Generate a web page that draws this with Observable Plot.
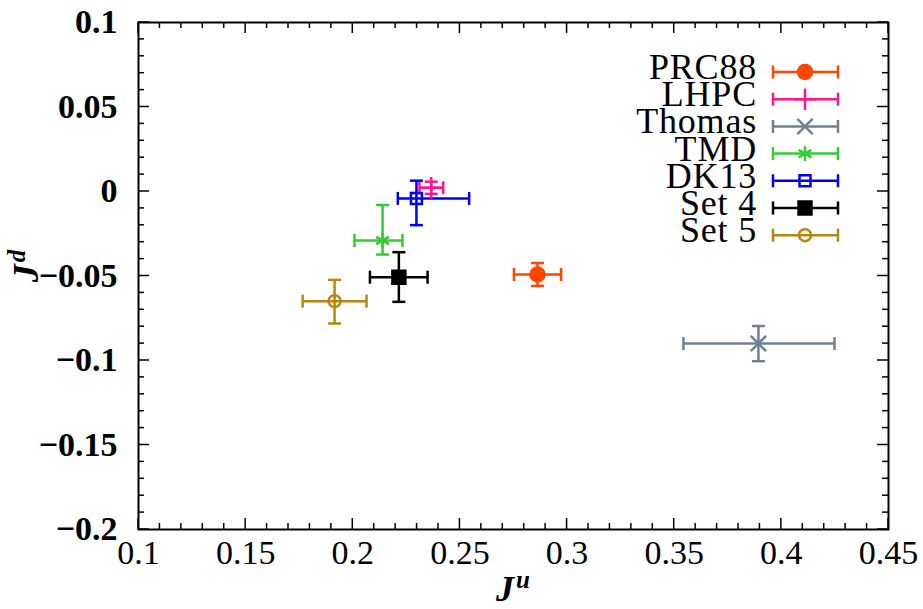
<!DOCTYPE html>
<html><head><meta charset="utf-8">
<script src="https://cdn.jsdelivr.net/npm/d3@7"></script>
<script src="https://cdn.jsdelivr.net/npm/@observablehq/plot@0.6"></script>
<style>body{margin:0;background:#fff;} #chart svg{display:block;}</style>
</head><body><div id="chart"></div>
<script>
// ---- data ----
const names   = ["PRC88", "LHPC", "Thomas", "TMD", "DK13", "Set 4", "Set 5"];
const colors  = ["#ff4500", "#ff1493", "#708090", "#32cd32", "#0000ff", "#000000", "#b8860b"];
const symbols = ["circle", "plus", "times", "asterisk", "square", "square", "circle"];
const filled  = [true, false, false, false, false, true, false];
const ju      = [0.2862, 0.2366, 0.3893, 0.2139, 0.2297, 0.2215, 0.1915];
const juMinus = [0.0110, 0.0055, 0.0350, 0.0131, 0.0087, 0.0135, 0.0149];
const juPlus  = [0.0110, 0.0056, 0.0355, 0.0093, 0.0246, 0.0134, 0.0149];
const jd      = [-0.0491, 0.0022, -0.0900, -0.0290, -0.0041, -0.0507, -0.0649];
const jdMinus = [0.0068, 0.0036, 0.0104, 0.0083, 0.0158, 0.0146, 0.0132];
const jdPlus  = [0.0068, 0.0036, 0.0104, 0.0210, 0.0105, 0.0148, 0.0126];
const xTicks  = [0.1, 0.15, 0.2, 0.25, 0.3, 0.35, 0.4, 0.45];
const yTicks  = [-0.2, -0.15, -0.1, -0.05, 0, 0.05, 0.1];
const xMinor  = [0.11,0.12,0.13,0.14,0.16,0.17,0.18,0.19,0.21,0.22,0.23,0.24,0.26,0.27,0.28,0.29,0.31,0.32,0.33,0.34,0.36,0.37,0.38,0.39,0.41,0.42,0.43,0.44];
const yMinor  = [-0.19,-0.18,-0.17,-0.16,-0.14,-0.13,-0.12,-0.11,-0.09,-0.08,-0.07,-0.06,-0.04,-0.03,-0.02,-0.01,0.01,0.02,0.03,0.04,0.06,0.07,0.08,0.09];

const data = names.map((n, i) => ({
  name: n, color: colors[i], symbol: symbols[i], filled: filled[i],
  x: ju[i], xlo: ju[i] - juMinus[i], xhi: ju[i] + juPlus[i],
  y: jd[i], ylo: jd[i] - jdMinus[i], yhi: jd[i] + jdPlus[i]
}));

const capV = {draw(ctx, size) { const r = Math.sqrt(size / Math.PI); ctx.moveTo(0, -r); ctx.lineTo(0, r); }};
const capH = {draw(ctx, size) { const r = Math.sqrt(size / Math.PI); ctx.moveTo(-r, 0); ctx.lineTo(r, 0); }};

const FONT = "'Liberation Serif', 'DejaVu Serif', serif";
const fmt = d => (d < 0 ? "\u2212" : "") + Math.abs(d);
const SW = 2.5, CAP = 6.5, MR = 7;
const markerR = d => d.symbol === "square" ? (d.filled ? 7.3 : 6.2) : (d.symbol === "circle" ? (d.filled ? 7 : 6) : MR);

const markerMarks = data.map(d => Plot.dot([d], {
  x: "x", y: "y", symbol: d.symbol, r: markerR(d),
  stroke: d.color, fill: d.filled ? d.color : "none", strokeWidth: SW
}));

const chart = Plot.plot({
  width: 923, height: 609,
  marginLeft: 138, marginRight: 35, marginTop: 22, marginBottom: 80,
  x: {domain: [0.1, 0.45]},
  y: {domain: [-0.2, 0.1]},
  style: {fontFamily: FONT, fontSize: "34px", color: "#000", background: "#fff"},
  marks: [
    Plot.axisX({ticks: xTicks, tickSize: 0, tickPadding: 10, tickFormat: fmt, label: null, fontSize: 34}),
    Plot.axisY({ticks: yTicks, tickSize: 0, tickPadding: 21, tickFormat: fmt, label: null, fontSize: 34, fontWeight: "bold"}),
    Plot.link(data, {x1: "xlo", x2: "xhi", y1: "y", y2: "y", stroke: d => d.color, strokeWidth: SW}),
    Plot.link(data, {x1: "x", x2: "x", y1: "ylo", y2: "yhi", stroke: d => d.color, strokeWidth: SW}),
    Plot.dot(data, {x: "xlo", y: "y", symbol: capV, r: CAP, stroke: d => d.color, strokeWidth: SW}),
    Plot.dot(data, {x: "xhi", y: "y", symbol: capV, r: CAP, stroke: d => d.color, strokeWidth: SW}),
    Plot.dot(data, {x: "x", y: "ylo", symbol: capH, r: CAP, stroke: d => d.color, strokeWidth: SW}),
    Plot.dot(data, {x: "x", y: "yhi", symbol: capH, r: CAP, stroke: d => d.color, strokeWidth: SW}),
    ...markerMarks,
    Plot.frame({stroke: "#000", strokeWidth: 2})
  ]
});

document.getElementById("chart").appendChild(chart);

// inward ticks on all four sides
const sx = chart.scale("x"), sy = chart.scale("y");
const svg = d3.select(chart);
const X0 = sx.apply(0.1), X1 = sx.apply(0.45), Y0 = sy.apply(-0.2), Y1 = sy.apply(0.1);
const tg = svg.append("g").attr("stroke", "#000").attr("stroke-width", 1.5);
function xt(v, len) {
  const px = sx.apply(v);
  tg.append("line").attr("x1", px).attr("x2", px).attr("y1", Y0).attr("y2", Y0 - len);
  tg.append("line").attr("x1", px).attr("x2", px).attr("y1", Y1).attr("y2", Y1 + len);
}
function yt(v, len) {
  const py = sy.apply(v);
  tg.append("line").attr("y1", py).attr("y2", py).attr("x1", X0).attr("x2", X0 + len);
  tg.append("line").attr("y1", py).attr("y2", py).attr("x1", X1).attr("x2", X1 - len);
}
xTicks.forEach(v => xt(v, 11)); xMinor.forEach(v => xt(v, 6));
yTicks.forEach(v => yt(v, 11)); yMinor.forEach(v => yt(v, 6));

// axis labels
const xl = svg.append("text").attr("x", (X0 + X1) / 2).attr("y", 601).attr("text-anchor", "middle")
  .attr("font-family", FONT).attr("font-size", 36).attr("font-style", "italic").attr("font-weight", "bold");
xl.append("tspan").text("J");
xl.append("tspan").attr("font-size", 25).attr("dy", -13).attr("dx", 2).text("u");
const yl = svg.append("text").attr("transform", "translate(38,266) rotate(-90)").attr("text-anchor", "middle")
  .attr("font-family", FONT).attr("font-size", 36).attr("font-style", "italic").attr("font-weight", "bold");
yl.append("tspan").text("J");
yl.append("tspan").attr("font-size", 25).attr("dy", -13).attr("dx", 2).text("d");

// legend
const lg = svg.append("g");
const LX1 = 773, LX2 = 838, LS = 805, LT = 757, L0 = 72, LSTEP = 27.2;
const typeMap = {circle: d3.symbolCircle, plus: d3.symbolPlus, times: d3.symbolTimes, asterisk: d3.symbolAsterisk, square: d3.symbolSquare};
data.forEach((d, i) => {
  const cy = L0 + i * LSTEP;
  lg.append("text").attr("x", LT).attr("y", cy + 7).attr("text-anchor", "end")
    .attr("font-family", FONT).attr("font-size", 36).attr("letter-spacing", 0.8).attr("fill", "#000").text(d.name);
  const g = lg.append("g").attr("stroke", d.color).attr("stroke-width", SW).attr("fill", "none");
  g.append("line").attr("x1", LX1).attr("x2", LX2).attr("y1", cy).attr("y2", cy);
  g.append("line").attr("x1", LX1).attr("x2", LX1).attr("y1", cy - CAP).attr("y2", cy + CAP);
  g.append("line").attr("x1", LX2).attr("x2", LX2).attr("y1", cy - CAP).attr("y2", cy + CAP);
  const r = markerR(d);
  g.append("path").attr("transform", `translate(${LS},${cy})`)
    .attr("d", d3.symbol(typeMap[d.symbol], r * r * Math.PI)())
    .attr("fill", d.filled ? d.color : "none");
});
</script>
</body></html>
